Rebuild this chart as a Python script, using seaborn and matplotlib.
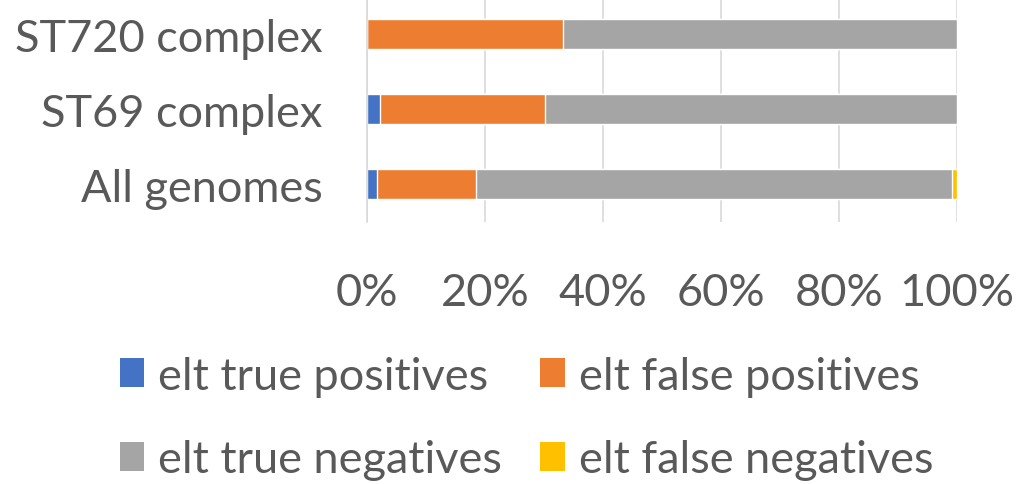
import matplotlib
matplotlib.use("Agg")
import matplotlib.pyplot as plt
import seaborn as sns
import numpy as np
import pandas as pd
from matplotlib.patches import Patch
from matplotlib.ticker import PercentFormatter

# Data (percent of each group)
groups = ["ST720 complex", "ST69 complex", "All genomes"]
true_pos = [0.0, 2.2, 1.7]
false_pos = [33.2, 28.0, 16.8]
true_neg = [66.8, 69.8, 80.7]
false_neg = [0.0, 0.0, 0.8]

series_names = ["elt true positives", "elt false positives",
                "elt true negatives", "elt false negatives"]
colors = ["#4472C4", "#ED7D31", "#A5A5A5", "#FFC000"]

sns.set_theme(style="white")
plt.rcParams['font.family'] = ['Lato', 'DejaVu Sans']
text_col = "#595959"
fs = 32.5

fig = plt.figure(figsize=(10.31, 4.85), dpi=100)
ax = fig.add_axes([0.356, 0.541, 0.572, 0.464])

# cumulative totals, drawn back to front
vals = np.array([true_pos, false_pos, true_neg, false_neg])
cum = np.cumsum(vals, axis=0)
for i in range(3, -1, -1):
    df = pd.DataFrame({"group": groups, "value": cum[i]})
    sns.barplot(data=df, x="value", y="group", color=colors[i], width=0.39,
                saturation=1, ax=ax, zorder=2)

ax.set_xlim(0, 100)
ax.set_xticks([0, 20, 40, 60, 80, 100])
ax.xaxis.set_major_formatter(PercentFormatter(decimals=0))
ax.grid(axis="x", color="#D9D9D9", linewidth=1.2, zorder=0)
ax.set_axisbelow(True)
for s in ["top", "right", "bottom"]:
    ax.spines[s].set_visible(False)
ax.spines["left"].set_color("#D9D9D9")
ax.spines["left"].set_linewidth(1.2)
ax.set_xlabel("")
ax.set_ylabel("")
ax.tick_params(axis="x", length=0, pad=36, labelsize=fs, labelcolor=text_col)
ax.tick_params(axis="y", length=0, pad=32, labelsize=fs, labelcolor=text_col)

# legend filled row by row like the original
order = [0, 2, 1, 3]
handles = [Patch(facecolor=colors[k], edgecolor="none") for k in order]
labels = [series_names[k] for k in order]
fig.legend(handles, labels, ncol=2, loc="center left", bbox_to_anchor=(0.116, 0.136),
           frameon=False, fontsize=fs, labelcolor=text_col, handlelength=0.55,
           handleheight=0.62, handletextpad=0.3, columnspacing=0.85,
           labelspacing=0.95, borderpad=0, borderaxespad=0)

fig.savefig("out.png", dpi=100)
